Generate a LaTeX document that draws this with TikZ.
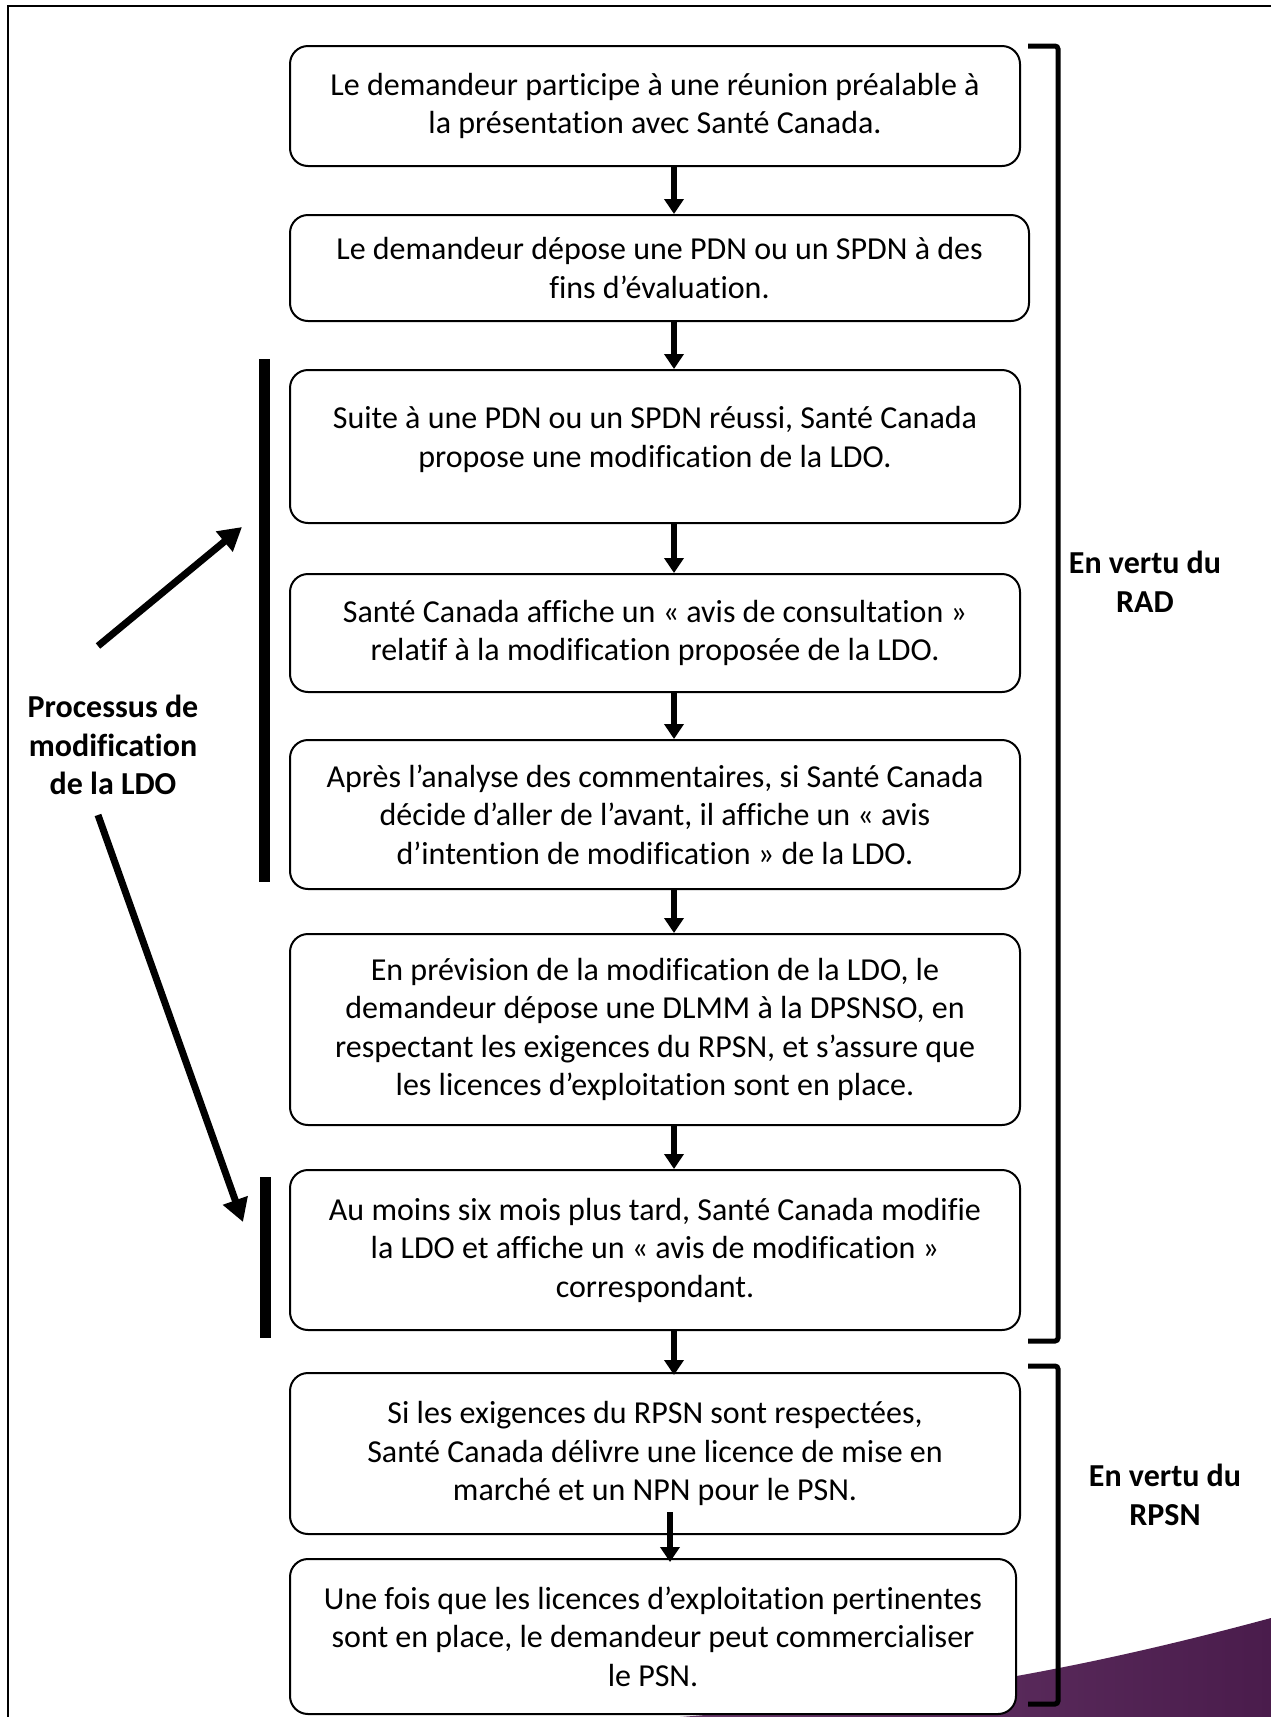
\documentclass[tikz,border=0pt]{standalone}
\usepackage{fontspec}
\setmainfont{Carlito}[Ligatures=NoCommon]
\usetikzlibrary{arrows.meta,calc}
\definecolor{swooshdark}{HTML}{4A1C4C}
\definecolor{swooshlight}{HTML}{6A3A6C}
\begin{document}
\begin{tikzpicture}[x=1pt,y=-1pt,
  box/.style={draw,line width=2pt,rounded corners=18pt,fill=white,align=center,inner sep=0pt,
    font=\fontsize{32}{38.5}\selectfont},
  txt/.style={align=center,inner sep=0pt,font=\fontsize{32}{38.5}\selectfont},
  lbl/.style={align=center,font=\bfseries\fontsize{32}{38.5}\selectfont},
  varrow/.style={line width=6pt,-{Triangle[width=19pt,length=15pt]}},
  darrow/.style={line width=7pt,-{Triangle[width=25pt,length=23pt]}},
  bar/.style={line width=11pt},
  brack/.style={line width=5pt,rounded corners=3pt}]
\useasboundingbox (0,0) rectangle (1271,1717);
% purple swoosh
\shade[left color=swooshlight,right color=swooshdark]
  (680,1717) .. controls (900,1700) and (1060,1675) .. (1271,1618) -- (1271,1717) -- cycle;
% frame
\draw[line width=2pt] (8,1717) -- (8,6) -- (1271,6);
% boxes
\node[box,minimum width=730pt,minimum height=120pt] (b1) at (655,106)
  {Le demandeur participe à une réunion préalable à\\la présentation avec Santé Canada.};
\node[box,minimum width=739pt,minimum height=106pt] (b2) at (659.5,268)
  {Le demandeur dépose une PDN ou un SPDN à des\\fins d’évaluation.};
\node[box,minimum width=730pt,minimum height=153pt] (b3) at (655,446.5) {};
\node[txt] (t3) at (655,439.5)
  {Suite à une PDN ou un SPDN réussi, Santé Canada\\propose une modification de la LDO.};
\node[box,minimum width=730pt,minimum height=118pt] (b4) at (655,633)
  {Santé Canada affiche un « avis de consultation »\\relatif à la modification proposée de la LDO.};
\node[box,minimum width=730pt,minimum height=149pt] (b5) at (655,814.5)
  {Après l’analyse des commentaires, si Santé Canada\\décide d’aller de l’avant, il affiche un « avis\\d’intention de modification » de la LDO.};
\node[box,minimum width=730pt,minimum height=191pt] (b6) at (655,1029.5)
  {En prévision de la modification de la LDO, le\\demandeur dépose une DLMM à la DPSNSO, en\\respectant les exigences du RPSN, et s’assure que\\les licences d’exploitation sont en place.};
\node[box,minimum width=730pt,minimum height=160pt] (b7) at (655,1250)
  {Au moins six mois plus tard, Santé Canada modifie\\la LDO et affiche un « avis de modification »\\correspondant.};
\node[box,minimum width=730pt,minimum height=161pt] (b8) at (655,1453.5)
  {Si les exigences du RPSN sont respectées,\\Santé Canada délivre une licence de mise en\\marché et un NPN pour le PSN.};
\node[box,minimum width=726pt,minimum height=155pt] (b9) at (653,1636.5)
  {Une fois que les licences d’exploitation pertinentes\\sont en place, le demandeur peut commercialiser\\le PSN.};
% vertical arrows
\coordinate (ax) at (674,0);
\coordinate (ax2) at (670,0);
\draw[varrow] (b1.south -| ax) -- (b2.north -| ax);
\draw[varrow] (b2.south -| ax) -- (b3.north -| ax);
\draw[varrow] (b3.south -| ax) -- (b4.north -| ax);
\draw[varrow] (b4.south -| ax) -- (b5.north -| ax);
\draw[varrow] (b5.south -| ax) -- (b6.north -| ax);
\draw[varrow] (b6.south -| ax) -- (b7.north -| ax);
\draw[varrow] (b7.south -| ax) -- ($(b8.north -| ax)+(0,3)$);
\draw[varrow] ($(b8.south -| ax2)+(0,-23)$) -- ($(b9.north -| ax2)+(0,4)$);
% right brackets
\draw[brack] (1028,46) -- (1058,46) -- (1058,1341) -- (1028,1341);
\draw[brack] (1028,1366) -- (1058,1366) -- (1058,1704) -- (1028,1704);
\node[lbl] (rad) at (1145,582) {En vertu du\\RAD};
\node[lbl] (rpsn) at (1165,1495) {En vertu du\\RPSN};
% left bars
\coordinate (bar1t) at (264,359);
\coordinate (bar1b) at (264,882);
\coordinate (bar2t) at (265,1177);
\coordinate (bar2b) at (265,1338);
\draw[bar] (bar1t) -- (bar1b);
\draw[bar] (bar2t) -- (bar2b);
% left label and arrows
\node[lbl] (proc) at (113,745) {Processus de\\modification\\de la LDO};
\coordinate (d1s) at (98,646);
\coordinate (d1e) at (242,527);
\coordinate (d2s) at (98,815);
\coordinate (d2e) at (243,1222);
\draw[darrow] (d1s) -- (d1e);
\draw[darrow] (d2s) -- (d2e);
\end{tikzpicture}
\end{document}
